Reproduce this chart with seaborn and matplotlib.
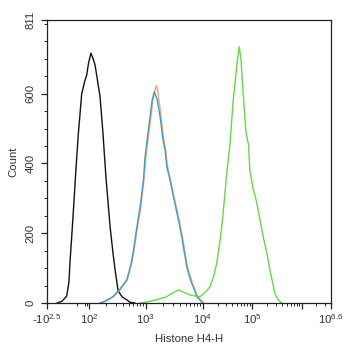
import numpy as np
import pandas as pd
import seaborn as sns
import matplotlib
matplotlib.use("Agg")
import matplotlib.pyplot as plt

# Histogram overlays on a 0-1023 display-channel axis (biexponential display)
black_ch = [37, 55, 72, 80, 84, 90, 98, 105, 114, 126, 138, 144, 150, 159, 167, 174,
            192, 203, 213, 228, 239, 246, 257, 271, 288, 300, 318]
black_ct = [0, 5, 20, 60, 120, 190, 290, 381, 487, 600, 639, 653, 685, 716, 700, 682,
            591, 480, 362, 219, 140, 95, 35, 18, 9, 2, 0]

orange_ch = [194, 212, 240, 266, 290, 305, 314, 326, 338, 350, 357, 371, 375, 382, 390,
             395, 400, 410, 420, 428, 434, 440, 446, 458, 476, 488, 492, 506, 514, 524,
             530, 542, 554, 566]
orange_ct = [0, 5, 18, 40, 66, 110, 150, 215, 270, 352, 419, 510, 534, 580, 612,
             623, 605, 545, 475, 440, 395, 372, 350, 305, 240, 192, 172, 106, 82, 58,
             46, 20, 9, 0]

blue_ch = [192, 210, 238, 264, 288, 303, 312, 324, 336, 348, 354, 368, 372, 379, 387,
           397, 408, 418, 426, 432, 438, 444, 456, 474, 486, 490, 504, 512, 522, 528,
           540, 552, 562]
blue_ct = [0, 5, 18, 40, 66, 110, 150, 215, 275, 352, 419, 510, 534, 580, 605,
           585, 534, 470, 438, 391, 372, 352, 305, 238, 190, 170, 104, 80, 56, 45,
           18, 8, 0]

green_ch = [336, 360, 390, 432, 451, 474, 487, 501, 516, 534, 552, 570, 588, 602, 612,
            624, 634, 648, 659, 671, 678, 685, 693, 699, 707, 717, 726, 731, 742, 756,
            767, 779, 793, 803, 814, 821, 832, 846]
green_ct = [0, 3, 8, 18, 28, 37, 33, 28, 23, 20, 18, 30, 47, 80, 114,
            180, 250, 372, 450, 580, 630, 690, 734, 700, 600, 490, 455, 381, 330, 287,
            240, 190, 140, 95, 55, 28, 10, 0]

series_names = ["black", "orange", "blue", "green"]
series_colors = ["#111111", "#f0a478", "#3d9fc4", "#66d64a"]

# x axis ticks (channel position and label)
major_pos = [0, 152, 357, 562, 739, 917, 1023]
major_lab = [r"-10$^{2.5}$", r"10$^{2}$", r"10$^{3}$", r"10$^{4}$", r"10$^{5}$", "",
             r"10$^{6.6}$"]
y_ticks = [0, 200, 400, 600, 811]

frames = []
for name, ch, ct in zip(series_names,
                        [black_ch, orange_ch, blue_ch, green_ch],
                        [black_ct, orange_ct, blue_ct, green_ct]):
    frames.append(pd.DataFrame({"channel": ch, "count": ct, "sample": name}))
df = pd.concat(frames, ignore_index=True)

sns.set_style("ticks")
plt.rcParams["font.family"] = ["Liberation Sans", "DejaVu Sans"]
plt.rcParams["mathtext.fontset"] = "custom"
plt.rcParams["mathtext.rm"] = "Liberation Sans"
plt.rcParams["mathtext.it"] = "Liberation Sans"

fig = plt.figure(figsize=(3.46, 3.50), dpi=100)
ax = fig.add_axes([0.135, 0.1343, 0.8216, 0.8086])

sns.lineplot(data=df, x="channel", y="count", hue="sample", hue_order=series_names,
             palette=series_colors, sort=False, estimator=None, linewidth=1.0,
             legend=False, ax=ax)

ax.set_xlim(0, 1023)
ax.set_ylim(0, 811)

# minor ticks: log spacing inside each decade
minor = [110, 138, 144]
for lo, hi, span in [(152, 357, 1.0), (357, 562, 1.0), (562, 739, 1.0),
                     (739, 917, 1.0), (917, 1023, 0.6)]:
    width = (hi - lo) / span
    for k in range(2, 10):
        d = np.log10(k)
        if d < span:
            minor.append(lo + width * d)
ax.set_xticks(major_pos)
ax.set_xticklabels(major_lab)
ax.set_xticks(minor, minor=True)

ax.set_yticks(y_ticks)
ax.set_yticks(np.arange(0, 811, 50), minor=True)
ax.tick_params(axis="y", labelrotation=90)
for t in ax.get_yticklabels():
    t.set_va("center")

text_color = "#333333"
ax.tick_params(which="major", direction="out", length=4, width=0.9, labelsize=8.2,
               color="#222222", labelcolor=text_color, pad=2.5)
ax.tick_params(axis="y", which="major", pad=4)
ax.tick_params(which="minor", direction="out", length=2.2, width=0.7, color="#222222")
for s in ax.spines.values():
    s.set_linewidth(0.9)
    s.set_color("#222222")

ax.set_xlabel("Histone H4-H", fontsize=8.2, labelpad=6, color=text_color)
ax.set_ylabel("Count", fontsize=8.2, labelpad=5, color=text_color)

fig.savefig("out.png", dpi=100)
